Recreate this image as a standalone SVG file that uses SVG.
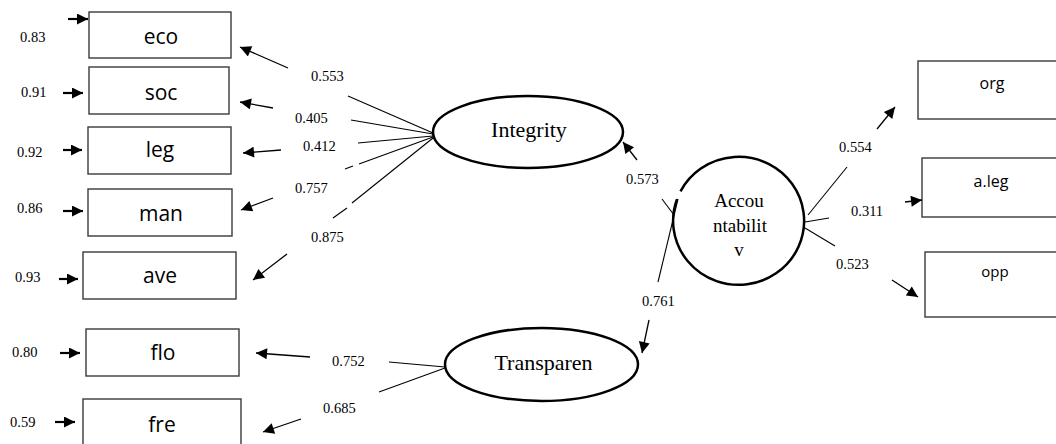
<svg xmlns="http://www.w3.org/2000/svg" width="1056" height="444" viewBox="0 0 1056 444">
<defs>
<marker id="ah" viewBox="0 0 10 10" refX="10" refY="5" markerWidth="14" markerHeight="11" markerUnits="userSpaceOnUse" orient="auto">
<path d="M0,0 L10,5 L0,10 Z" fill="#000"/>
</marker>
<marker id="ahs" viewBox="0 0 10 10" refX="10" refY="5" markerWidth="12" markerHeight="11" markerUnits="userSpaceOnUse" orient="auto">
<path d="M0,0 L10,5 L0,10 Z" fill="#000"/>
</marker>
<style>
.box{fill:#fff;stroke:#3a3a3a;stroke-width:1.4}
.lat{fill:#fff;stroke:#000;stroke-width:2.5}
.obs{font-family:"Open Sans","Liberation Sans",sans-serif;font-size:21px;fill:#000;text-anchor:middle}
.obs2{font-family:"Open Sans","Liberation Sans",sans-serif;font-size:16px;fill:#000;text-anchor:middle}
.lt{font-family:"Liberation Serif","Times New Roman",serif;font-size:22px;fill:#000;text-anchor:middle}
.lt2{font-family:"Liberation Serif","Times New Roman",serif;font-size:19px;fill:#000;text-anchor:middle}
.num{font-family:"Liberation Serif","Times New Roman",serif;font-size:14.5px;fill:#000}
.ln{stroke:#000;stroke-width:1.1;fill:none}
.ar{stroke:#000;stroke-width:1.3;fill:none;marker-end:url(#ah)}
.er{stroke:#000;stroke-width:2.2;fill:none;marker-end:url(#ahs)}
</style>
</defs>
<rect width="1056" height="444" fill="#fff"/>

<g id="eco"><rect class="box" x="89" y="12" width="142" height="46"/><text class="obs" x="161" y="44">eco</text></g>
<g id="soc"><rect class="box" x="89" y="67" width="140" height="47"/><text class="obs" x="161" y="100">soc</text></g>
<g id="leg"><rect class="box" x="88" y="127" width="143" height="47"/><text class="obs" x="160" y="157">leg</text></g>
<g id="man"><rect class="box" x="88" y="189" width="144" height="47"/><text class="obs" x="161" y="221">man</text></g>
<g id="ave"><rect class="box" x="83" y="252" width="153" height="47"/><text class="obs" x="160" y="283">ave</text></g>
<g id="flo"><rect class="box" x="86" y="329" width="153" height="47"/><text class="obs" x="163" y="360">flo</text></g>
<g id="fre"><rect class="box" x="83" y="399" width="158" height="60"/><text class="obs" x="162" y="432">fre</text></g>

<g id="org"><rect class="box" x="918" y="61" width="150" height="58"/><text class="obs2" x="992" y="89">org</text></g>
<g id="aleg"><rect class="box" x="922" y="158" width="150" height="59"/><text class="obs2" x="991" y="187">a.leg</text></g>
<g id="opp"><rect class="box" x="925" y="252" width="150" height="65"/><text class="obs2" x="995" y="277" style="font-size:15px">opp</text></g>

<g id="integrity"><ellipse class="lat" cx="528" cy="132" rx="95" ry="36"/><text class="lt" x="529" y="137">Integrity</text></g>
<g id="transparen"><ellipse class="lat" cx="541.5" cy="364.5" rx="96.5" ry="36.5"/><text class="lt" x="543.5" y="370">Transparen</text></g>
<g id="accountability"><path class="lat" d="M680.5,191.3 A65.5,64 0 1 1 677,199.1"/><text class="lt2" x="739" y="207">Accou</text><text class="lt2" x="740" y="232">ntabilit</text><text class="lt2" x="739" y="256">v</text></g>

<g id="connectors">
<line class="er" x1="68" y1="19" x2="88" y2="19"/>
<line class="er" x1="63" y1="93" x2="83" y2="93"/>
<line class="er" x1="63" y1="150" x2="82" y2="150"/>
<line class="er" x1="63" y1="211" x2="83" y2="211"/>
<line class="er" x1="59" y1="279" x2="78" y2="279"/>
<line class="er" x1="60" y1="353" x2="80" y2="353"/>
<line class="er" x1="55" y1="422" x2="75" y2="422"/>

<line class="ln" x1="348" y1="96" x2="433" y2="133"/>
<line class="ln" x1="351" y1="120" x2="433" y2="134"/>
<line class="ln" x1="358" y1="143" x2="433" y2="136"/>
<line class="ln" x1="345" y1="169" x2="353" y2="166"/>
<line class="ln" x1="359" y1="164" x2="433" y2="137"/>
<line class="ln" x1="333" y1="218" x2="347" y2="208"/>
<line class="ln" x1="352" y1="203" x2="433" y2="138"/>

<line class="ar" x1="288" y1="68" x2="240" y2="47"/>
<line class="ar" x1="273" y1="108" x2="240" y2="102"/>
<line class="ar" x1="281" y1="150" x2="243" y2="153"/>
<line class="ar" x1="273" y1="198" x2="241" y2="210"/>
<line class="ar" x1="287" y1="254" x2="253" y2="280"/>

<line class="ln" x1="389" y1="362" x2="445" y2="367"/>
<line class="ln" x1="379" y1="392" x2="445" y2="368"/>
<line class="ar" x1="310" y1="357" x2="256" y2="353"/>
<line class="ar" x1="301" y1="419" x2="263" y2="432"/>

<line class="ln" x1="662" y1="199" x2="674" y2="215"/>
<line class="ln" x1="678" y1="199" x2="658" y2="282"/>
<line class="ar" x1="637" y1="160" x2="623" y2="142"/>
<line class="ar" x1="649" y1="320" x2="642" y2="353"/>

<line class="ln" x1="808" y1="215" x2="847" y2="167"/>
<line class="ln" x1="805" y1="222" x2="829" y2="218"/>
<line class="ln" x1="805" y1="228" x2="835" y2="246"/>
<line class="ar" x1="877" y1="129" x2="895" y2="107"/>
<line class="ar" x1="905" y1="202" x2="922" y2="200"/>
<line class="ar" x1="892" y1="280" x2="918" y2="297"/>
</g>

<g id="labels">
<text class="num" x="20" y="42">0.83</text>
<text class="num" x="21" y="97">0.91</text>
<text class="num" x="17" y="157">0.92</text>
<text class="num" x="17" y="213">0.86</text>
<text class="num" x="15" y="282">0.93</text>
<text class="num" x="12" y="357">0.80</text>
<text class="num" x="10" y="427">0.59</text>
<text class="num" x="311" y="81">0.553</text>
<text class="num" x="295" y="123">0.405</text>
<text class="num" x="303" y="151">0.412</text>
<text class="num" x="295" y="193">0.757</text>
<text class="num" x="311" y="242">0.875</text>
<text class="num" x="626" y="184">0.573</text>
<text class="num" x="642" y="306">0.761</text>
<text class="num" x="332" y="366">0.752</text>
<text class="num" x="323" y="413">0.685</text>
<text class="num" x="839" y="152">0.554</text>
<text class="num" x="851" y="216">0.311</text>
<text class="num" x="836" y="269">0.523</text>
</g>
</svg>
